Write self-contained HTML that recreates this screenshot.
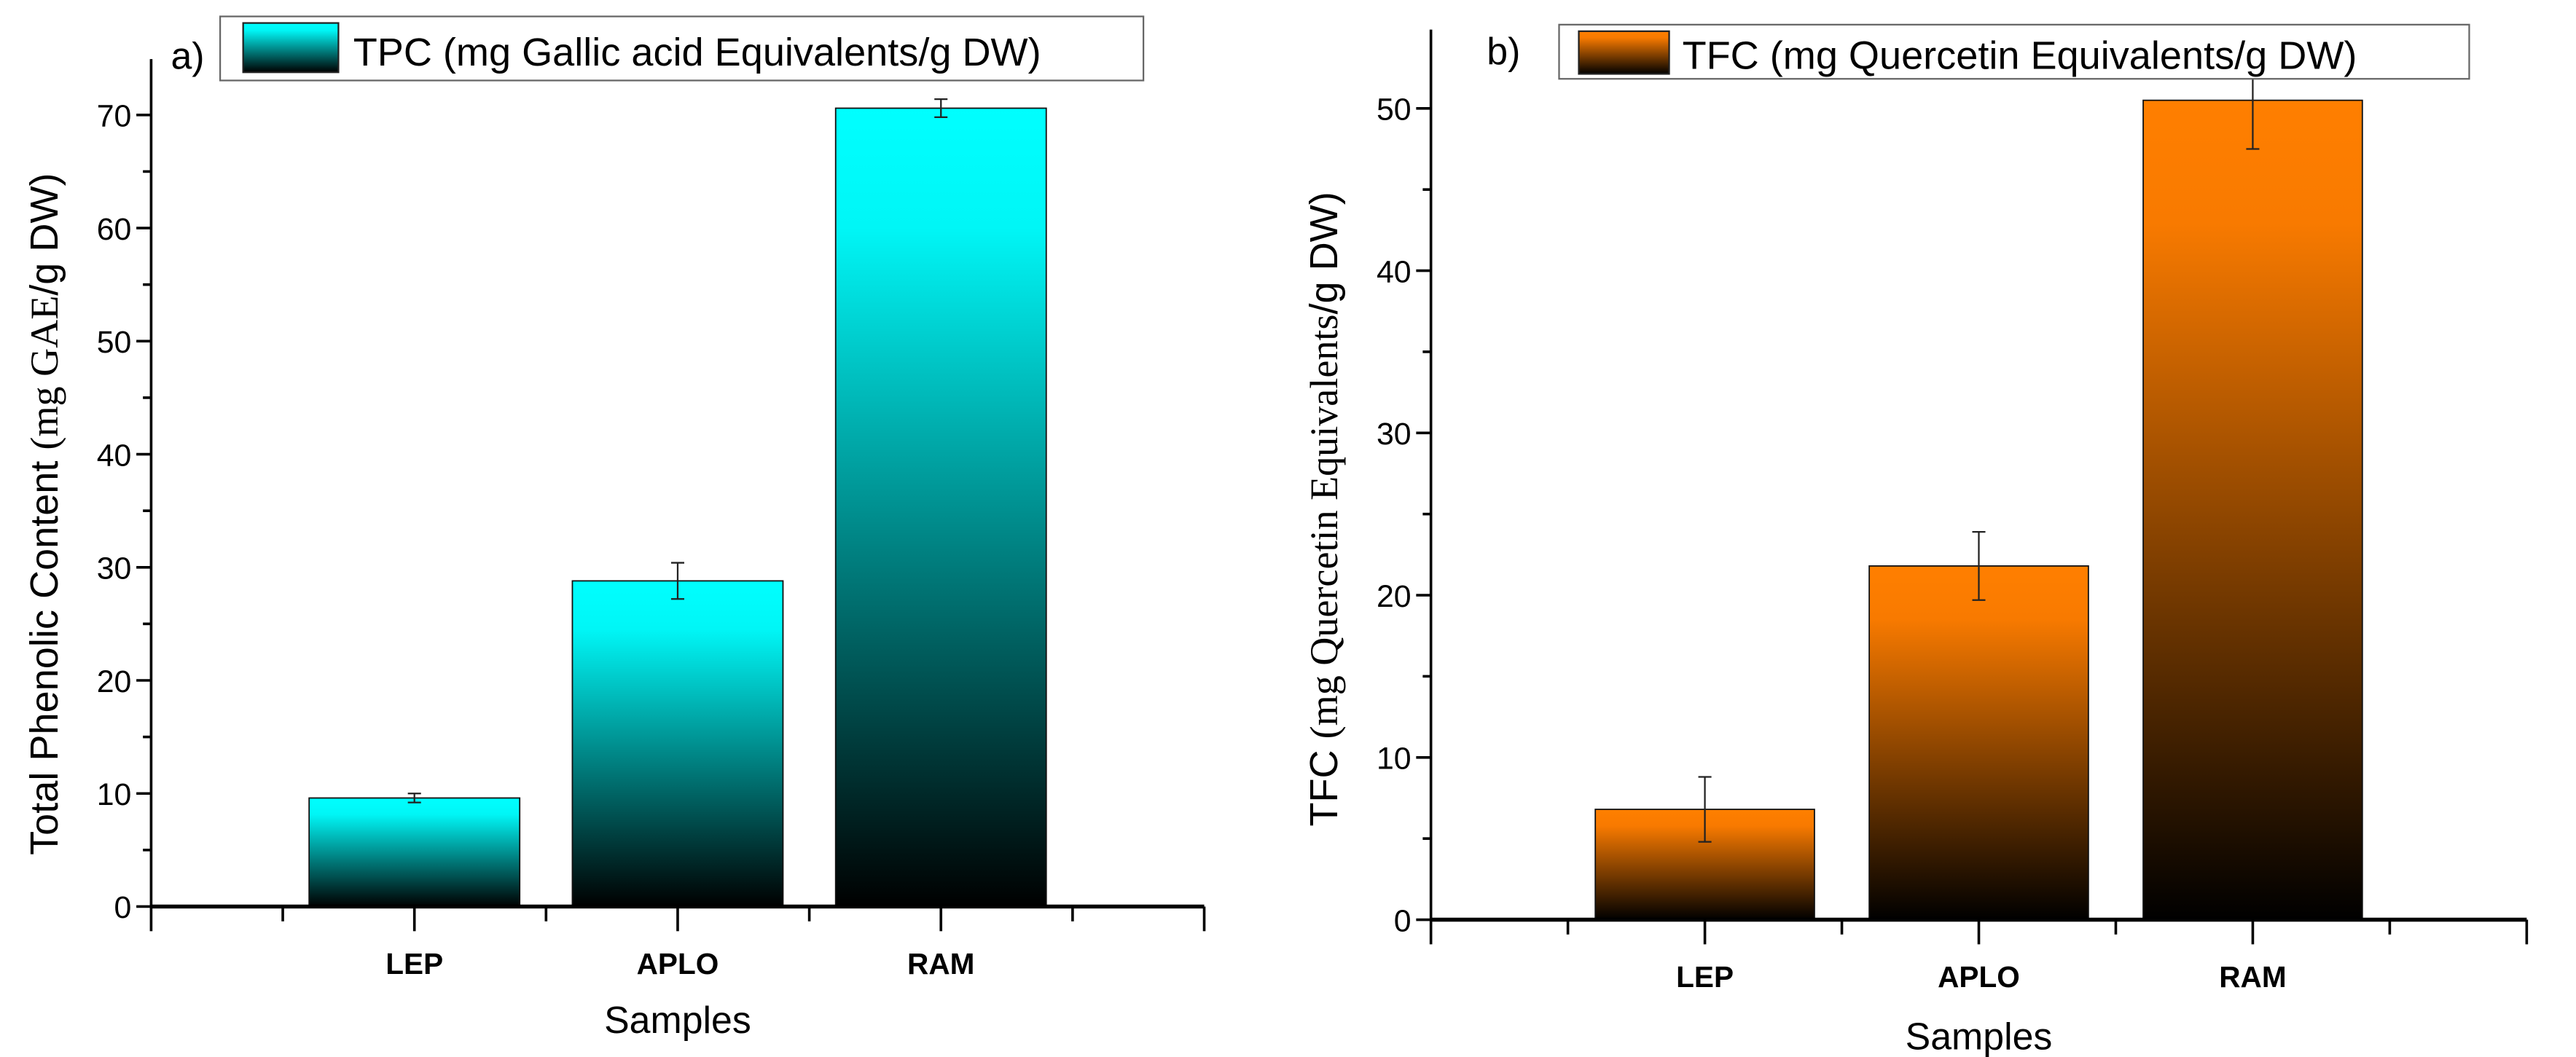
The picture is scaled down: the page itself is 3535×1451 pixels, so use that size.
<!DOCTYPE html>
<html><head><meta charset="utf-8"><style>
html,body{margin:0;padding:0;background:#fff}
svg{display:block}
text{font-family:"Liberation Sans",sans-serif;fill:#000}
.cat{font-weight:bold;font-size:18px}
.tick{font-size:19px}
</style></head><body>
<svg id="chart" width="3535" height="1451" viewBox="0 0 1568 643.6" xmlns="http://www.w3.org/2000/svg">
<defs>
<linearGradient id="gc" x1="0" y1="0" x2="0" y2="1"><stop offset="0" stop-color="#00ffff"/><stop offset="0.15" stop-color="#00f6f6"/><stop offset="1" stop-color="#000"/></linearGradient>
<linearGradient id="go" x1="0" y1="0" x2="0" y2="1"><stop offset="0" stop-color="#ff7f00"/><stop offset="0.15" stop-color="#f87a00"/><stop offset="1" stop-color="#000"/></linearGradient>
</defs>
<g id="pa"></g>
<g id="pb"></g>
</svg>
<script>
const categories = ["LEP","APLO","RAM"];
const tpcValues = [9.6, 28.8, 70.6];
const tpcErrors = [0.4, 1.6, 0.8];
const tfcValues = [6.8, 21.8, 50.5];
const tfcErrors = [2.0, 2.1, 3.0];
const tpcTicks = [0,10,20,30,40,50,60,70];
const tfcTicks = [0,10,20,30,40,50];
const NS = "http://www.w3.org/2000/svg";
function mk(p, tag, at, txt){const e=document.createElementNS(NS,tag);for(const k in at)e.setAttribute(k,at[k]);if(txt!==undefined)e.textContent=txt;p.appendChild(e);return e;}

function panel(g, cfg){
  const {x0,x1,y0,yTop,ymax,values,errors,ticks,grad,step}=cfg;
  const xs = v => x0 + (x1-x0)*v/4;
  const ys = v => y0 - (y0-yTop)*v/ymax;
  values.forEach((v,i)=>{
    const c=i+1, w=(x1-x0)/4*0.8;
    const r=mk(g,'rect',{x:xs(c)-w/2,y:ys(v),width:w,height:y0-ys(v),fill:'url(#'+grad+')',stroke:'#111','stroke-width':0.8});
    
    
    const eg=mk(g,'g',{stroke:'#222','stroke-width':1});
    
    
    const xc=xs(c), a=ys(v+errors[i]), b=ys(v-errors[i]);
    mk(eg,'line',{x1:xc,x2:xc,y1:a,y2:b});
    mk(eg,'line',{x1:xc-4,x2:xc+4,y1:a,y2:a});
    mk(eg,'line',{x1:xc-4,x2:xc+4,y1:b,y2:b});
  });
  const ya=mk(g,'g',{stroke:'#000','stroke-width':1.6});
  
  
  mk(ya,'line',{x1:x0,x2:x0,y1:y0,y2:cfg.axisTop});
  for(let v=0; ys(v)>=cfg.axisTop; v+=step/2){
    const major = Math.abs(v/step-Math.round(v/step))<1e-6;
    mk(ya,'line',{x1:x0-(major?9:5),x2:x0,y1:ys(v),y2:ys(v)});
  }
  ticks.forEach(t=>{
    const tl=mk(g,'text',{x:x0-12,y:ys(t)+7,'text-anchor':'end',class:'tick'},t);
    
    
  });
  const xa=mk(g,'g',{stroke:'#000','stroke-width':1.6});
  
  
  mk(xa,'line',{x1:x0,x2:x1,y1:y0,y2:y0,'stroke-width':2.4});
  for(let k=0;k<=8;k++){
    const long = (k===0||k===8||k%2===0);
    mk(xa,'line',{x1:xs(k/2),x2:xs(k/2),y1:y0,y2:y0+(long?15:9)});
  }
  categories.forEach((c,i)=>{
    const t=mk(g,'text',{x:xs(i+1),y:y0+41,'text-anchor':'middle',class:'cat'},c);
    
    
  });
  const st=mk(g,'text',{x:xs(2),y:cfg.titleY,'text-anchor':'middle','font-size':23},'Samples');
  
  
}

const pa=document.getElementById('pa'), pb=document.getElementById('pb');
panel(pa,{x0:92,x1:733,y0:552,yTop:70,ymax:70,values:tpcValues,errors:tpcErrors,ticks:tpcTicks,grad:'gc',step:10,axisTop:36,titleY:629});
panel(pb,{x0:871,x1:1538,y0:560,yTop:66,ymax:50,values:tfcValues,errors:tfcErrors,ticks:tfcTicks,grad:'go',step:10,axisTop:18,titleY:639});
</script>
<svg style="position:absolute;left:0;top:0" width="3535" height="1451" viewBox="0 0 1568 643.6" xmlns="http://www.w3.org/2000/svg">
<text x="104" y="42" font-size="23">a)</text>
<g>
<rect x="134" y="10" width="562" height="39" fill="#fff" stroke="#666" stroke-width="1"/>
<rect x="148" y="14" width="58" height="30" fill="url(#gc)" stroke="#222" stroke-width="1"/>
<text x="215" y="40" font-size="24">TPC (mg Gallic acid Equivalents/g DW)</text>
</g>
<text x="905" y="39" font-size="23">b)</text>
<g>
<rect x="949" y="15" width="554" height="33" fill="#fff" stroke="#666" stroke-width="1"/>
<rect x="961" y="19" width="55" height="26" fill="url(#go)" stroke="#222" stroke-width="1"/>
<text x="1024" y="42" font-size="24">TFC (mg Quercetin Equivalents/g DW)</text>
</g>
<text transform="translate(35,313) rotate(-90)" text-anchor="middle" font-size="24">Total Phenolic Content <tspan font-family="Liberation Serif, serif">(mg GAE</tspan>/g DW)</text>
<text transform="translate(814,310) rotate(-90)" text-anchor="middle" font-size="24">TFC <tspan font-family="Liberation Serif, serif">(mg Quercetin Equivalents</tspan>/g DW)</text>
</svg>
</body></html>
